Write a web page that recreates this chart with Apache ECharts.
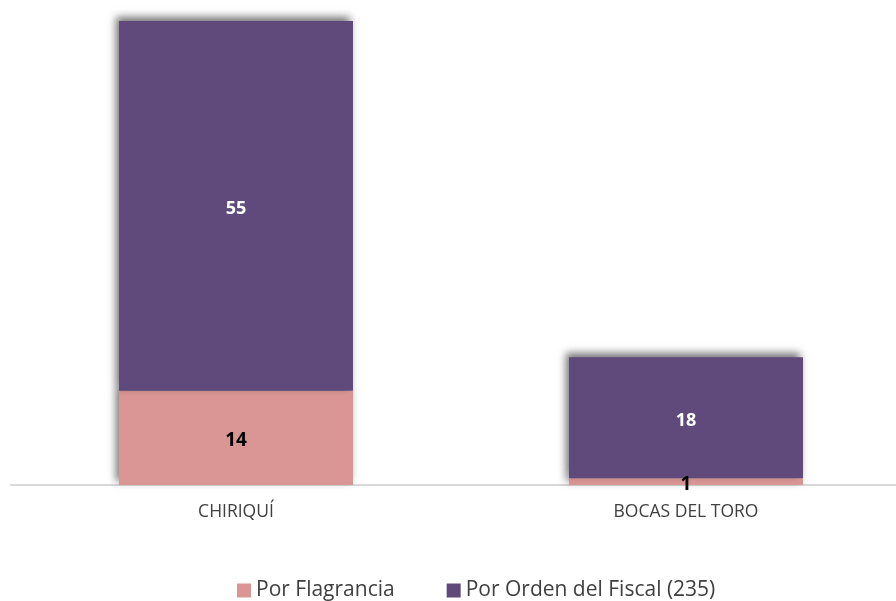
<!DOCTYPE html>
<html>
<head>
<meta charset="utf-8">
<script src="https://cdn.jsdelivr.net/npm/echarts@6/dist/echarts.min.js"></script>
<style>
  html, body { margin: 0; padding: 0; background: #fff; }
  #chart { width: 896px; height: 601px; }
</style>
</head>
<body>
<div id="chart"></div>
<script>
const provincias = ['CHIRIQUÍ', 'BOCAS DEL TORO']
const porFlagrancia = [14, 1]
const porOrdenFiscal = [55, 18]
const serieNombres = ['Por Flagrancia', 'Por Orden del Fiscal (235)']

const totales = provincias.map((p, i) => porFlagrancia[i] + porOrdenFiscal[i])

const chart = echarts.init(document.getElementById('chart'))

const sombra = {
  shadowBlur: 8,
  shadowColor: 'rgba(0,0,0,0.55)',
  shadowOffsetX: -3,
  shadowOffsetY: -4
}

chart.setOption({
  animation: false,
  textStyle: { fontFamily: 'Open Sans' },
  legend: {
    bottom: -5,
    left: 232,
    itemWidth: 14,
    itemHeight: 14,
    itemGap: 52,
    icon: 'rect',
    textStyle: { fontSize: 21, color: '#404040', fontFamily: 'Open Sans' },
    data: serieNombres
  },
  grid: {
    left: 11,
    right: -15,
    top: 21,
    bottom: 116,
    containLabel: false,
    outerBoundsMode: 'none'
  },
  xAxis: {
    type: 'category',
    data: provincias,
    axisLine: { lineStyle: { color: '#d9d9d9', width: 2 } },
    axisTick: { show: false },
    axisLabel: { color: '#404040', fontSize: 17.5, margin: 18 }
  },
  yAxis: {
    type: 'value',
    min: 0,
    max: Math.max(...totales),
    show: false,
    splitLine: { show: false }
  },
  series: [
    {
      name: serieNombres[0],
      type: 'bar',
      stack: 'total',
      barWidth: '52%',
      data: porFlagrancia,
      itemStyle: Object.assign({ color: '#D99694' }, sombra),
      label: {
        show: true,
        position: 'inside',
        color: '#000',
        fontWeight: 'bold',
        fontSize: 19,
        offset: [0, 3]
      }
    },
    {
      name: serieNombres[1],
      type: 'bar',
      stack: 'total',
      barWidth: '52%',
      data: porOrdenFiscal,
      itemStyle: Object.assign({ color: '#604A7B' }, sombra),
      label: {
        show: true,
        position: 'inside',
        color: '#fff',
        fontWeight: 'bold',
        fontSize: 18,
        offset: [0, 3]
      }
    }
  ]
})
</script>
</body>
</html>
